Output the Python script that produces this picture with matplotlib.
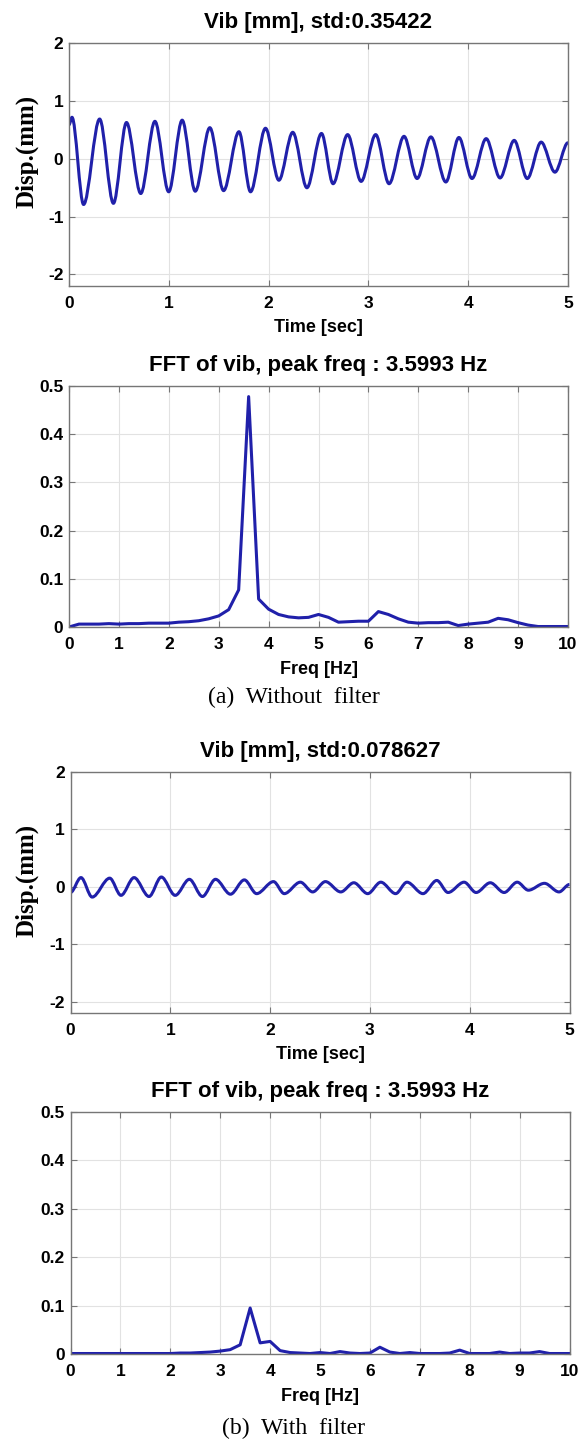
import numpy as np
import matplotlib
matplotlib.use("Agg")
import matplotlib.pyplot as plt
from matplotlib.path import Path
from matplotlib.patches import PathPatch

plt.rcParams['axes.unicode_minus'] = False
plt.rcParams['font.family'] = ['Liberation Sans', 'DejaVu Sans']

# ---------------- data ----------------
# (a) displacement without filter: extrema
t_raw = [0.0, 0.03, 0.146, 0.307, 0.445, 0.576, 0.719, 0.861, 0.999, 1.134, 1.265,
         1.411, 1.549, 1.703, 1.819, 1.969, 2.103, 2.242, 2.384, 2.530, 2.646, 2.792,
         2.927, 3.073, 3.207, 3.357, 3.488, 3.626, 3.776, 3.907, 4.038, 4.180, 4.319,
         4.461, 4.592, 4.731, 4.869, 5.0]
disp_raw = [0.59, 0.72, -0.79, 0.69, -0.77, 0.63, -0.60, 0.65, -0.57, 0.67, -0.56,
            0.54, -0.55, 0.47, -0.57, 0.53, -0.37, 0.46, -0.50, 0.44, -0.43, 0.42,
            -0.39, 0.42, -0.43, 0.39, -0.34, 0.38, -0.40, 0.37, -0.34, 0.35, -0.33,
            0.32, -0.34, 0.29, -0.23, 0.28]

# (b) displacement with filter
t_filt = [0.0, 0.105, 0.217, 0.393, 0.506, 0.637, 0.787, 0.910, 1.049, 1.191, 1.322,
          1.453, 1.603, 1.742, 1.865, 2.034, 2.142, 2.303, 2.427, 2.554, 2.708, 2.839,
          2.978, 3.109, 3.258, 3.371, 3.532, 3.670, 3.783, 3.944, 4.064, 4.206, 4.345,
          4.476, 4.588, 4.749, 4.895, 5.0]
disp_filt = [-0.10, 0.16, -0.18, 0.15, -0.15, 0.16, -0.17, 0.17, -0.15, 0.13, -0.17,
             0.13, -0.13, 0.12, -0.12, 0.09, -0.12, 0.08, -0.09, 0.09, -0.09, 0.07,
             -0.12, 0.08, -0.12, 0.08, -0.12, 0.11, -0.10, 0.08, -0.10, 0.07, -0.10,
             0.08, -0.06, 0.06, -0.09, 0.04]

freq = [0.0, 0.2, 0.4, 0.6, 0.8, 1.0, 1.2, 1.4, 1.6, 1.8, 2.0, 2.2, 2.4, 2.6, 2.8,
        3.0, 3.2, 3.4, 3.6, 3.8, 4.0, 4.2, 4.4, 4.6, 4.8, 5.0, 5.2, 5.4, 5.6, 5.8,
        6.0, 6.2, 6.4, 6.6, 6.8, 7.0, 7.2, 7.4, 7.6, 7.8, 8.0, 8.2, 8.4, 8.6, 8.8,
        9.0, 9.2, 9.4, 9.6, 9.8, 10.0]
fft_raw = [0.000, 0.006, 0.006, 0.006, 0.007, 0.006, 0.007, 0.007, 0.008, 0.008,
           0.008, 0.010, 0.011, 0.013, 0.017, 0.023, 0.036, 0.077, 0.478, 0.058,
           0.037, 0.026, 0.021, 0.019, 0.020, 0.026, 0.020, 0.010, 0.011, 0.012,
           0.012, 0.032, 0.026, 0.017, 0.010, 0.008, 0.009, 0.009, 0.010, 0.003,
           0.006, 0.008, 0.010, 0.018, 0.015, 0.009, 0.004, 0.001, 0.001, 0.001,
           0.001]
fft_filt = [0.001, 0.001, 0.001, 0.001, 0.001, 0.001, 0.001, 0.001, 0.001, 0.001,
            0.001, 0.002, 0.002, 0.003, 0.004, 0.006, 0.009, 0.019, 0.095, 0.023,
            0.026, 0.007, 0.003, 0.002, 0.001, 0.003, 0.001, 0.005, 0.002, 0.001,
            0.002, 0.014, 0.004, 0.001, 0.003, 0.001, 0.001, 0.001, 0.002, 0.008,
            0.001, 0.001, 0.001, 0.004, 0.001, 0.002, 0.002, 0.005, 0.001, 0.001,
            0.001]

titles_time = ["Vib [mm], std:0.35422", "Vib [mm], std:0.078627"]
title_fft = "FFT of vib, peak freq : 3.5993 Hz"
captions = ["(a)  Without  filter", "(b)  With  filter"]
time_ticks = [0, 1, 2, 3, 4, 5]
disp_ticks = [-2, -1, 0, 1, 2]
freq_ticks = [0, 1, 2, 3, 4, 5, 6, 7, 8, 9, 10]
amp_ticks = [0, 0.1, 0.2, 0.3, 0.4, 0.5]
amp_labels = ["0", "0.1", "0.2", "0.3", "0.4", "0.5"]

# ---------------- style ----------------
LINE = '#2020aa'
FRAME = '#767676'
GRID = '#e2e2e2'
W, H = 585, 1444
SERIF = ['Liberation Serif', 'DejaVu Serif']

fig = plt.figure(figsize=(W / 100, H / 100), dpi=100)
fig.patch.set_facecolor('white')


def px_axes(left, top, right, bottom):
    return fig.add_axes([left / W, 1 - bottom / H, (right - left) / W, (bottom - top) / H])


def style(ax):
    ax.grid(True, color=GRID, lw=0.8)
    ax.set_axisbelow(True)
    for s in ax.spines.values():
        s.set_color(FRAME)
        s.set_linewidth(1.0)
    ax.tick_params(direction='in', top=True, right=True, length=4, width=0.8,
                   color=FRAME, labelsize=12.5, pad=4)
    ax.tick_params(axis='x', pad=7.5)
    for lab in ax.get_xticklabels() + ax.get_yticklabels():
        lab.set_fontweight('bold')


def smooth_path(ts, vs):
    verts = [(ts[0], vs[0])]
    codes = [Path.MOVETO]
    for i in range(len(ts) - 1):
        dt = ts[i + 1] - ts[i]
        verts += [(ts[i] + dt / 3, vs[i]), (ts[i + 1] - dt / 3, vs[i + 1]),
                  (ts[i + 1], vs[i + 1])]
        codes += [Path.CURVE4] * 3
    return Path(verts, codes)


def time_plot(ax, ts, vs, title, label_y):
    ax.add_patch(PathPatch(smooth_path(ts, vs), fill=False, edgecolor=LINE, lw=2.2,
                           transform=ax.transData, joinstyle='round'))
    ax.set_xlim(0, 5)
    ax.set_ylim(-2.2, 2)
    ax.set_xticks(time_ticks)
    ax.set_yticks(disp_ticks)
    ax.set_xticklabels([str(v) for v in time_ticks])
    ax.set_yticklabels([str(v) for v in disp_ticks])
    style(ax)
    ax.set_title(title, fontsize=16, fontweight='bold', pad=11)
    ax.set_xlabel("Time [sec]", fontsize=13, fontweight='bold')
    ax.xaxis.set_label_coords(0.5, -0.135)
    ax.xaxis.label.set_va('top')
    fig.text(26.5 / W, 1 - label_y / H, "Disp.(mm)", rotation=90, ha='center',
             va='center', fontsize=18, fontweight='bold', family=SERIF)


def fft_plot(ax, fs, amps):
    ax.plot(fs, amps, color=LINE, lw=2.2, solid_joinstyle='round')
    ax.set_xlim(0, 10)
    ax.set_ylim(0, 0.5)
    ax.set_xticks(freq_ticks)
    ax.set_yticks(amp_ticks)
    ax.set_xticklabels([str(v) for v in freq_ticks])
    ax.set_yticklabels(amp_labels)
    style(ax)
    ax.set_title(title_fft, fontsize=16, fontweight='bold', pad=11)
    ax.set_xlabel("Freq [Hz]", fontsize=13, fontweight='bold')
    ax.xaxis.set_label_coords(0.5, -0.14)
    ax.xaxis.label.set_va('top')


ax1 = px_axes(69, 43.3, 568, 286)
time_plot(ax1, t_raw, disp_raw, titles_time[0], 151.5)
ax2 = px_axes(69, 386, 568, 627)
fft_plot(ax2, freq, fft_raw)
ax3 = px_axes(70.5, 772, 569.5, 1013)
time_plot(ax3, t_filt, disp_filt, titles_time[1], 880)
ax4 = px_axes(70.5, 1112, 569.5, 1354)
fft_plot(ax4, freq, fft_filt)

for txt, y in zip(captions, [697.5, 1428]):
    fig.text(294 / W, 1 - y / H, txt, ha='center', va='center', fontsize=17,
             family=SERIF)

fig.savefig("out.png", dpi=100, facecolor='white')
